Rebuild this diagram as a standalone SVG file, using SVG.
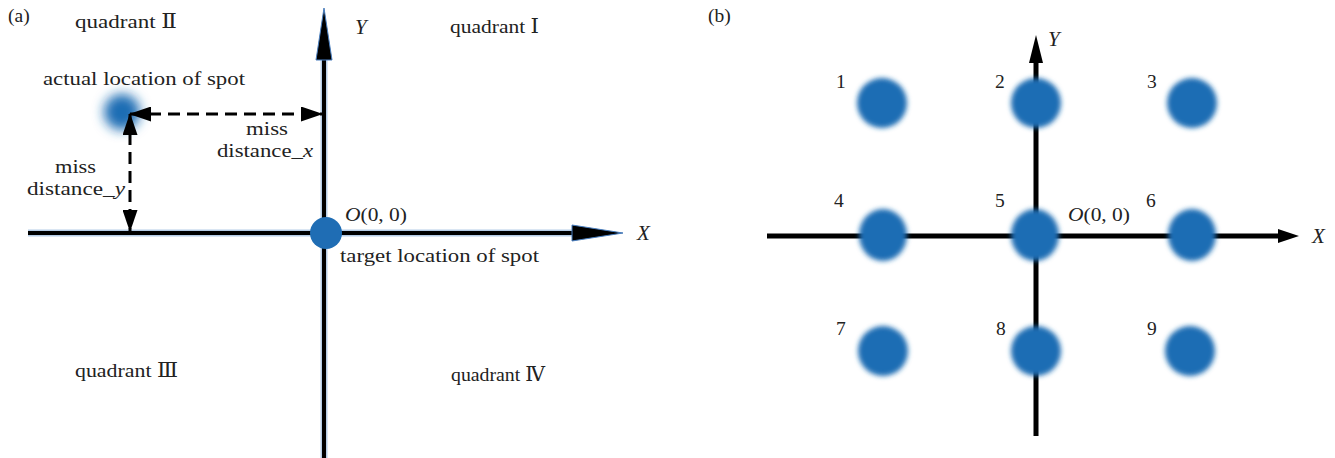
<svg xmlns="http://www.w3.org/2000/svg" width="1335" height="458" viewBox="0 0 1335 458">
<style>
text{font-family:"Liberation Serif","DejaVu Serif",serif;fill:#222;font-size:19.5px}
.it{font-style:italic}
.lab{font-size:21px}
.glow{stroke:#5b8fc8;stroke-width:7;opacity:0.45;fill:none}
.ax{stroke:#000;stroke-width:4;fill:none}
.axb{stroke:#000;stroke-width:5;fill:none}
.dash{stroke:#000;stroke-width:3;stroke-dasharray:12,7;fill:none}
.spot{fill:#1f6db4;filter:url(#b1)}
</style>
<defs>
<filter id="b1" x="-50%" y="-50%" width="200%" height="200%"><feGaussianBlur stdDeviation="2.5"/></filter>
<filter id="b2" x="-100%" y="-100%" width="300%" height="300%"><feGaussianBlur stdDeviation="6"/></filter>
<marker id="ah" viewBox="0 0 22 15" refX="21" refY="7.5" markerWidth="22" markerHeight="15" markerUnits="userSpaceOnUse" orient="auto-start-reverse"><path d="M0,0 L22,7.5 L0,15 Z" fill="#000"/></marker>
</defs>
<g id="panel-a">
<g id="connectors-a">
<line class="glow" x1="324" y1="458" x2="324" y2="60"/>
<line class="glow" x1="28" y1="233" x2="575" y2="233"/>
<line class="ax" x1="324" y1="458" x2="324" y2="58"/>
<line class="ax" x1="28" y1="233" x2="575" y2="233"/>
<path d="M324,8 L332,60 L316,60 Z" fill="#000" stroke="#4a7fc0" stroke-width="1"/>
<path d="M623,233 L572,241 L572,225 Z" fill="#000" stroke="#4a7fc0" stroke-width="1"/>
</g>
<g id="actual-spot"><circle cx="122" cy="112" r="18" fill="#1f6db4" filter="url(#b2)"/></g>
<g id="dims">
<line class="dash" x1="130" y1="114" x2="322" y2="114" marker-start="url(#ah)" marker-end="url(#ah)"/>
<line class="dash" x1="130" y1="114" x2="130" y2="231" marker-start="url(#ah)" marker-end="url(#ah)"/>
</g>
<g id="target-spot"><circle cx="326" cy="233" r="16" fill="#1f6db4"/></g>
<text x="8" y="22">(a)</text>
<text x="75" y="28" textLength="102" lengthAdjust="spacingAndGlyphs">quadrant  Ⅱ</text>
<text x="355" y="34" class="it lab">Y</text>
<text x="450" y="33" textLength="89" lengthAdjust="spacingAndGlyphs">quadrant  Ⅰ</text>
<text x="43" y="85" textLength="202" lengthAdjust="spacingAndGlyphs">actual location of spot</text>
<text x="246" y="135" textLength="42" lengthAdjust="spacingAndGlyphs">miss</text>
<text x="217" y="157" textLength="96" lengthAdjust="spacingAndGlyphs">distance_<tspan class="it">x</tspan></text>
<text x="55" y="173" textLength="41" lengthAdjust="spacingAndGlyphs">miss</text>
<text x="27" y="195" textLength="98" lengthAdjust="spacingAndGlyphs">distance_<tspan class="it">y</tspan></text>
<text x="345" y="221" textLength="62" lengthAdjust="spacingAndGlyphs"><tspan class="it">O</tspan>(0, 0)</text>
<text x="340" y="262" textLength="199" lengthAdjust="spacingAndGlyphs">target location of spot</text>
<text x="637" y="240" class="it lab">X</text>
<text x="75" y="377" textLength="103" lengthAdjust="spacingAndGlyphs">quadrant  Ⅲ</text>
<text x="451" y="381" textLength="94" lengthAdjust="spacingAndGlyphs">quadrant Ⅳ</text>
</g>
<g id="panel-b">
<text x="708" y="22">(b)</text>
<g id="connectors-b">
<line class="axb" x1="1036" y1="436" x2="1036" y2="60"/>
<path d="M1036,35 L1043,63 L1029,63 Z" fill="#000"/>
<line class="axb" x1="767" y1="236" x2="1282" y2="236"/>
<path d="M1299,236 L1278,243 L1278,229 Z" fill="#000"/>
</g>
<g id="spot1"><circle class="spot" cx="882" cy="103" r="25"/><text x="836" y="88">1</text></g>
<g id="spot2"><circle class="spot" cx="1036" cy="103" r="25"/><text x="995" y="88">2</text></g>
<g id="spot3"><circle class="spot" cx="1192" cy="103" r="25"/><text x="1147" y="88">3</text></g>
<g id="spot4"><ellipse class="spot" cx="883" cy="235" rx="24" ry="26"/><text x="834" y="207">4</text></g>
<g id="spot5"><ellipse class="spot" cx="1035" cy="235" rx="24" ry="26"/><text x="995" y="207">5</text></g>
<g id="spot6"><ellipse class="spot" cx="1192" cy="235" rx="24" ry="26"/><text x="1146" y="207">6</text></g>
<g id="spot7"><circle class="spot" cx="883" cy="351" r="25"/><text x="836" y="335">7</text></g>
<g id="spot8"><circle class="spot" cx="1036" cy="351" r="25"/><text x="996" y="335">8</text></g>
<g id="spot9"><circle class="spot" cx="1190" cy="351" r="25"/><text x="1147" y="335">9</text></g>
<text x="1068" y="221" textLength="62" lengthAdjust="spacingAndGlyphs"><tspan class="it">O</tspan>(0, 0)</text>
<text x="1048" y="46" class="it lab">Y</text>
<text x="1312" y="243" class="it lab">X</text>
</g>
</svg>
